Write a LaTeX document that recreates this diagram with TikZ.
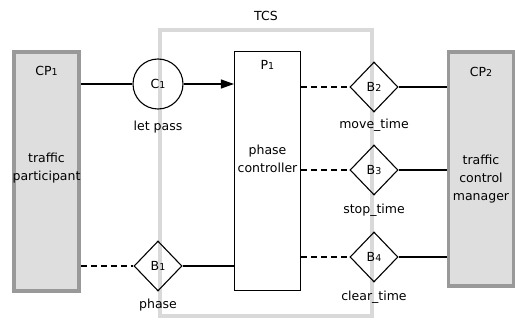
\documentclass[tikz,border=0pt]{standalone}
\usepackage{fontspec}
\setmainfont{DejaVu Sans}
\usetikzlibrary{arrows.meta, positioning, shapes.geometric}

\newcommand{\ix}[1]{{\fontsize{9.5}{9.5}\selectfont #1}}

\begin{document}
\begin{tikzpicture}[
    x=1pt, y=-1pt,
    every node/.style={
        align=center,
        font=\fontsize{12.5}{18}\selectfont
    },
    party/.style={
        draw=black!40,
        fill=black!13,
        line width=3.5pt,
        minimum width=65pt
    },
    process/.style={
        draw,
        line width=1.1pt,
        minimum width=66pt,
        minimum height=239pt
    },
    channel/.style={
        draw,
        circle,
        line width=1.1pt,
        minimum size=50pt,
        inner sep=0pt
    },
    buffer/.style={
        draw,
        diamond,
        aspect=1,
        line width=1.1pt,
        minimum width=48pt,
        minimum height=50pt,
        inner sep=0pt
    },
    link/.style={line width=1.1pt},
    weak/.style={line width=1.1pt, dash pattern=on 6pt off 4pt},
    arrow/.style={line width=1.1pt, -{Triangle[length=13pt, width=9pt]}}
]

\useasboundingbox (0,0) rectangle (515,321);

% ------------------------
% System boundary
% ------------------------
\node (tcs) [draw=black!15, line width=3.5pt, minimum width=212pt, minimum height=286pt,
    label={[yshift=4pt]above:TCS}] at (266,173) {};

% ------------------------
% Communication partners
% ------------------------
\node (cp1) [party, minimum height=239pt,
    label={[anchor=north, yshift=-12pt]north:CP\ix{1}},
    label={[yshift=3pt]center:traffic\\participant}] at (46.5,171.5) {};

\node (cp2) [party, minimum height=234pt,
    label={[anchor=north, yshift=-13pt]north:CP\ix{2}},
    label={[yshift=-10pt]center:traffic\\control\\manager}] at (481,169) {};

% ------------------------
% Process
% ------------------------
\node (p1) [process,
    label={[anchor=north, yshift=-6pt]north:P\ix{1}},
    label={[yshift=12pt]center:phase\\controller}] at (267.5,171) {};

% ------------------------
% Channel and buffers
% ------------------------
\node (c1) [channel, label={[yshift=-8pt]below:let pass}] at (158,84) {C\ix{1}};
\node (b1) [buffer, label={[yshift=-4pt]below:phase}] at (158,266) {B\ix{1}};
\node (b2) [buffer, label={[yshift=-3pt]below:move\_time}] at (374,87) {B\ix{2}};
\node (b3) [buffer, label={[yshift=-5pt]below:stop\_time}] at (374,170) {B\ix{3}};
\node (b4) [buffer, label={[yshift=-5pt]below:clear\_time}] at (374,257) {B\ix{4}};

% ------------------------
% Connectors
% ------------------------
\draw[link] (cp1.east |- c1) -- (c1);
\draw[arrow] (c1) -- (p1.west |- c1);
\draw[weak] (cp1.east |- b1) -- (b1);
\draw[link] (b1) -- (p1.west |- b1);

\foreach \b in {b2, b3, b4} {
    \draw[weak] (p1.east |- \b) -- (\b);
    \draw[link] (\b) -- (cp2.west |- \b);
}

\end{tikzpicture}
\end{document}
